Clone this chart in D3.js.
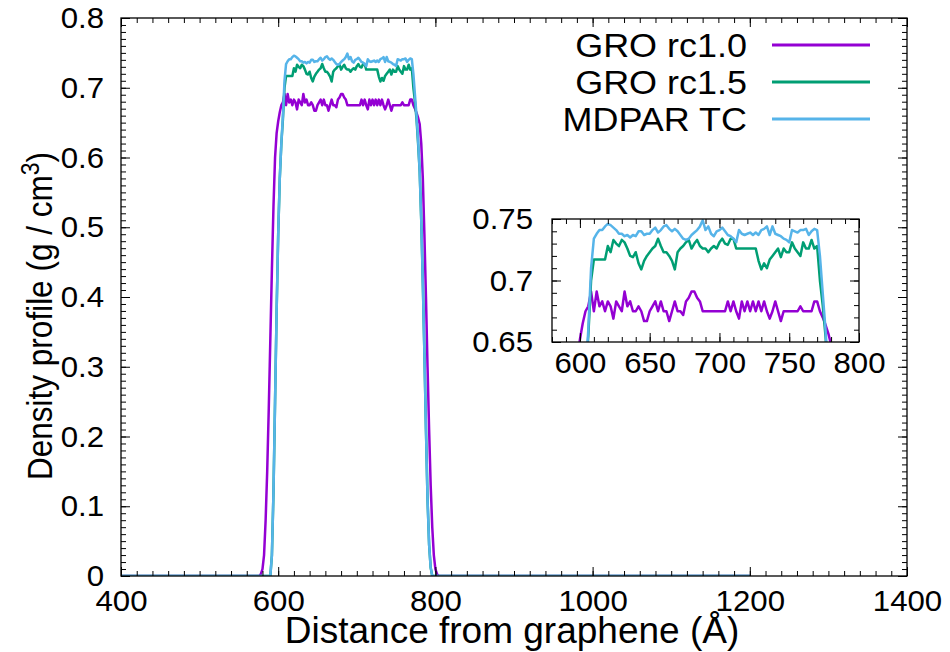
<!DOCTYPE html>
<html><head><meta charset="utf-8">
<script src="https://cdn.jsdelivr.net/npm/d3@7"></script>
<style>
body{margin:0;background:#fff}
text{font-family:"Liberation Sans",Arial,Helvetica,sans-serif;fill:#000}
</style>
</head><body>
<svg id="chart" width="950" height="652"></svg>
<script>
// ---------- DATA ----------
const distance = [400,
  570,572,574,576,578,580,582,584,586,588,
  590,592,594,596,598,600,602,604,606,608,
  610,612,614,616,618,620,622,624,626,628,
  630,632,634,636,638,640,642,644,646,648,
  650,652,654,656,658,660,662,664,666,668,
  670,672,674,676,678,680,682,684,686,688,
  690,692,694,696,698,700,702,704,706,708,
  710,712,714,716,718,720,722,724,726,728,
  730,732,734,736,738,740,742,744,746,748,
  750,752,754,756,758,760,762,764,766,768,
  770,772,774,776,778,780,782,784,786,788,
  790,792,794,796,798,800,802,804,806,808,
  810, 1200];

const groRc10 = [0,
  0,0,0,0,0.003,0.01,0.03,0.08,0.15,0.24,
  0.34,0.44,0.53,0.60,0.635,0.652,0.665,0.675,0.679,0.691,
  0.675,0.691,0.679,0.683,0.675,0.683,0.679,0.669,0.683,0.679,
  0.675,0.691,0.679,0.683,0.675,0.675,0.679,0.675,0.667,0.667,
  0.675,0.679,0.683,0.675,0.683,0.675,0.675,0.667,0.675,0.683,
  0.675,0.675,0.672,0.683,0.686,0.691,0.691,0.686,0.683,0.675,
  0.675,0.675,0.675,0.675,0.675,0.675,0.675,0.675,0.683,0.675,
  0.683,0.675,0.669,0.683,0.675,0.683,0.675,0.683,0.675,0.683,
  0.675,0.683,0.675,0.669,0.675,0.683,0.675,0.667,0.675,0.675,
  0.675,0.675,0.675,0.675,0.679,0.675,0.675,0.675,0.675,0.683,
  0.683,0.675,0.670,0.664,0.657,0.648,0.62,0.57,0.49,0.40,
  0.30,0.21,0.13,0.07,0.03,0.01,0.003,0,0,0,
  0, 0];

const groRc15 = [0,
  0,0,0,0,0,0,0,0,0,0,
  0,0.03,0.12,0.25,0.38,0.49,0.57,0.62,0.655,0.70,
  0.717,0.717,0.717,0.717,0.717,0.728,0.723,0.733,0.730,0.728,
  0.733,0.731,0.726,0.720,0.719,0.723,0.714,0.709,0.716,0.720,
  0.723,0.726,0.728,0.734,0.728,0.723,0.723,0.720,0.716,0.709,
  0.723,0.726,0.728,0.731,0.733,0.726,0.730,0.733,0.728,0.726,
  0.726,0.723,0.726,0.728,0.726,0.731,0.734,0.730,0.729,0.734,
  0.734,0.726,0.726,0.726,0.726,0.726,0.726,0.726,0.726,0.716,
  0.709,0.714,0.710,0.717,0.720,0.723,0.726,0.719,0.726,0.723,
  0.723,0.731,0.726,0.723,0.720,0.731,0.726,0.726,0.733,0.726,
  0.728,0.70,0.68,0.655,0.62,0.58,0.51,0.42,0.32,0.21,
  0.11,0.045,0.012,0,0,0,0,0,0,0,
  0, 0];

const mdparTC = [0,
  0,0,0,0,0,0,0,0,0,0,
  0,0.03,0.12,0.25,0.38,0.49,0.57,0.62,0.66,0.71,
  0.734,0.738,0.741,0.741,0.744,0.746,0.745,0.743,0.741,0.738,
  0.738,0.736,0.737,0.735,0.737,0.736,0.740,0.740,0.737,0.738,
  0.738,0.741,0.743,0.739,0.741,0.744,0.745,0.742,0.740,0.742,
  0.740,0.737,0.734,0.733,0.734,0.737,0.739,0.741,0.744,0.749,
  0.741,0.744,0.738,0.736,0.740,0.741,0.743,0.740,0.737,0.736,
  0.734,0.731,0.741,0.738,0.737,0.738,0.739,0.737,0.739,0.737,
  0.741,0.742,0.744,0.737,0.744,0.738,0.737,0.736,0.734,0.733,
  0.731,0.741,0.740,0.739,0.741,0.741,0.742,0.737,0.740,0.742,
  0.741,0.72,0.69,0.66,0.625,0.58,0.51,0.42,0.32,0.21,
  0.11,0.045,0.012,0,0,0,0,0,0,0,
  0, 0];

const seriesNames = ["GRO rc1.0", "GRO rc1.5", "MDPAR TC"];
const seriesColors = ["#9400d3", "#009e73", "#56b4e9"];
const xTicks = [400, 600, 800, 1000, 1200, 1400];
const yTicks = [0, 0.1, 0.2, 0.3, 0.4, 0.5, 0.6, 0.7, 0.8];
const insetXTicks = [600, 650, 700, 750, 800];
const insetYTicks = [0.65, 0.7, 0.75];
const xTitle = "Distance from graphene (Å)";

// ---------- DRAW ----------
const series = [groRc10, groRc15, mdparTC].map((vals, i) => ({
  name: seriesNames[i], color: seriesColors[i],
  points: distance.map((d, j) => [d, vals[j]])
}));

const svg = d3.select("#chart");
const TICK_FS = 30;
const L = 121, R = 907, T = 18, B = 576;
const x = d3.scaleLinear().domain([400, 1400]).range([L, R]);
const y = d3.scaleLinear().domain([0, 0.8]).range([B, T]);

function stretch(sel, s) {
  sel.each(function () {
    const t = d3.select(this);
    const x0 = +(t.attr("x") || 0);
    t.attr("transform", `translate(${x0 * (1 - s)},0) scale(${s},1)`);
  });
}

function ticks(g, axis) {
  g.call(axis);
  g.select(".domain").remove();
  g.selectAll(".tick line").attr("stroke", "#000").attr("stroke-width", 1);
  g.selectAll("text").attr("font-size", TICK_FS).attr("fill", "#000")
    .style("font-family", '"Liberation Sans",Arial,sans-serif');
  stretch(g.selectAll("text"), 1.04);
}

function frameAxes(xs, ys, xMaj, xMin, yMaj, yMin, majLen, minLen, xPad, yPad, xFmt, yFmt) {
  const [l, r] = xs.range(), [b, t] = ys.range();
  ticks(svg.append("g").attr("transform", `translate(0,${b})`),
    d3.axisBottom(xs).tickValues(xMin).tickSize(-minLen).tickFormat(""));
  ticks(svg.append("g").attr("transform", `translate(0,${t})`),
    d3.axisTop(xs).tickValues(xMin).tickSize(-minLen).tickFormat(""));
  ticks(svg.append("g").attr("transform", `translate(${l},0)`),
    d3.axisLeft(ys).tickValues(yMin).tickSize(-minLen).tickFormat(""));
  ticks(svg.append("g").attr("transform", `translate(${r},0)`),
    d3.axisRight(ys).tickValues(yMin).tickSize(-minLen).tickFormat(""));
  ticks(svg.append("g").attr("transform", `translate(0,${b})`),
    d3.axisBottom(xs).tickValues(xMaj).tickSize(-majLen).tickPadding(xPad).tickFormat(xFmt));
  ticks(svg.append("g").attr("transform", `translate(0,${t})`),
    d3.axisTop(xs).tickValues(xMaj).tickSize(-majLen).tickFormat(""));
  ticks(svg.append("g").attr("transform", `translate(${l},0)`),
    d3.axisLeft(ys).tickValues(yMaj).tickSize(-majLen).tickPadding(yPad).tickFormat(yFmt));
  ticks(svg.append("g").attr("transform", `translate(${r},0)`),
    d3.axisRight(ys).tickValues(yMaj).tickSize(-majLen).tickFormat(""));
}

svg.append("rect").attr("width", 950).attr("height", 652).attr("fill", "#fff");

// main curves
const line = d3.line().x(d => x(d[0])).y(d => y(d[1]));
svg.append("clipPath").attr("id", "clipMain").append("rect")
  .attr("x", L).attr("y", T).attr("width", R - L).attr("height", B - T);
const gMain = svg.append("g").attr("clip-path", "url(#clipMain)");
series.forEach(s => {
  gMain.append("path").attr("d", line(s.points)).attr("fill", "none")
    .attr("stroke", s.color).attr("stroke-width", 2.5).attr("stroke-linejoin", "round");
});

const xMinor = d3.range(400, 1401, 20);
const yMinor = d3.range(0, 81, 1).map(v => v / 100);
frameAxes(x, y, xTicks, xMinor, yTicks, yMinor, 9, 5, 14, 17, d => String(d), d => String(d));
svg.append("rect").attr("x", L).attr("y", T).attr("width", R - L).attr("height", B - T)
  .attr("fill", "none").attr("stroke", "#000").attr("stroke-width", 1.3);

// axis titles
svg.append("text").attr("x", 512).attr("y", 643).attr("text-anchor", "middle")
  .attr("font-size", 37).text(xTitle);
const yt = svg.append("text").attr("transform", "translate(52,316) rotate(-90) scale(1,1.1)")
  .attr("text-anchor", "middle").attr("font-size", 31.5);
yt.append("tspan").text("Density profile (g / cm");
yt.append("tspan").attr("font-size", 23).attr("dy", -12).text("3");
yt.append("tspan").attr("dy", 12).text(")");

// legend
series.forEach((s, i) => {
  const ly = 45 + i * 37;
  const lt = svg.append("text").attr("x", 747).attr("y", ly + 12).attr("text-anchor", "end")
    .attr("font-size", 33).text(s.name);
  stretch(lt, 1.09);
  svg.append("line").attr("x1", 772).attr("x2", 870).attr("y1", ly).attr("y2", ly)
    .attr("stroke", s.color).attr("stroke-width", 3);
});

// inset
const IL = 552, IR = 859, IT = 219, IB = 342;
const xi = d3.scaleLinear().domain([580, 800]).range([IL, IR]);
const yi = d3.scaleLinear().domain([0.65, 0.75]).range([IB, IT]);
svg.append("rect").attr("x", IL).attr("y", IT).attr("width", IR - IL).attr("height", IB - IT).attr("fill", "#fff");
svg.append("clipPath").attr("id", "clipInset").append("rect")
  .attr("x", IL).attr("y", IT).attr("width", IR - IL).attr("height", IB - IT);
const gIn = svg.append("g").attr("clip-path", "url(#clipInset)");
const lineI = d3.line().x(d => xi(d[0])).y(d => yi(d[1]));
series.forEach(s => {
  gIn.append("path").attr("d", lineI(s.points)).attr("fill", "none")
    .attr("stroke", s.color).attr("stroke-width", 2.5).attr("stroke-linejoin", "round");
});
const xiMinor = d3.range(580, 801, 10);
const yiMinor = d3.range(65, 76, 1).map(v => v / 100);
frameAxes(xi, yi, insetXTicks, xiMinor, insetYTicks, yiMinor, 9, 5, 10, 19, d => String(d), d => String(d));
svg.append("rect").attr("x", IL).attr("y", IT).attr("width", IR - IL).attr("height", IB - IT)
  .attr("fill", "none").attr("stroke", "#000").attr("stroke-width", 1.3);
</script>
</body></html>
